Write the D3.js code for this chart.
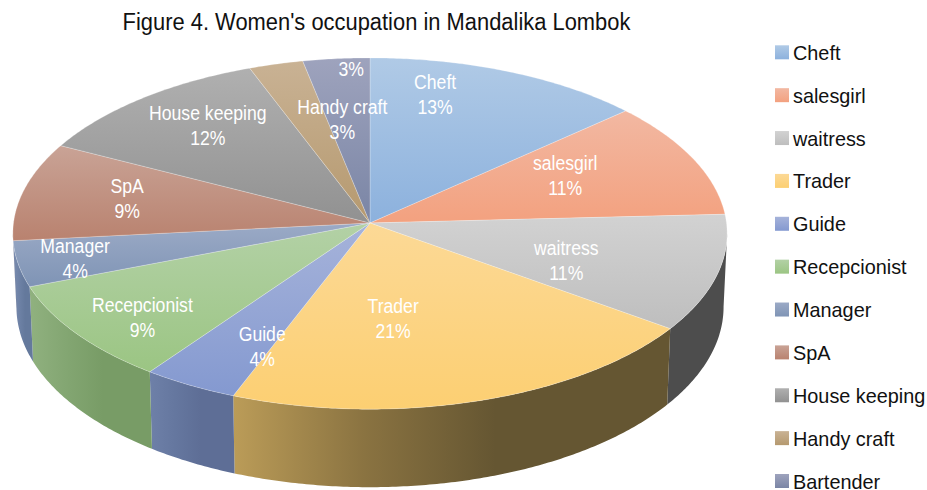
<!DOCTYPE html>
<html>
<head>
<meta charset="utf-8">
<title>Women's occupation in Mandalika Lombok</title>
<style>
body { margin: 0; background: #fff; }
text { font-family: "Liberation Sans", Arial, sans-serif; }
</style>
<script src="https://d3js.org/d3.v7.min.js"></script>
</head>
<body>
<script>
// data (labels show the rounded %)
var categories = ["Cheft", "salesgirl", "waitress", "Trader", "Guide", "Recepcionist", "Manager", "SpA", "House keeping", "Handy craft", "Bartender"];
var shares = [13.4, 10.8, 10.7, 21, 4.1, 9.2, 4.2, 9.1, 11.7, 2.6, 3.2];
var topLight = ["#b0cae6", "#f2b8a2", "#d2d2d2", "#fcd996", "#a6b3da", "#b3d1a6", "#9baac6", "#c9a396", "#b0b0b0", "#c9b294", "#9ea3bd"];
var topDark = ["#8cb1dd", "#f3a17f", "#bebebe", "#fccf72", "#8499d0", "#9bc583", "#7f94b5", "#b9826f", "#919191", "#b5996f", "#7a85a5"];
var sideLeft = ["#5f7ea8", "#a8694f", "#4d4d4d", "#bb9c58", "#6e80a8", "#90b17f", "#7a8caf", "#8a5f50", "#666666", "#8a6f48", "#5f6885"];
var sideMid = ["#55729a", "#985f47", "#4d4d4d", "#8a7341", "#65779f", "#83a672", "#6e82a6", "#80574a", "#5f5f5f", "#7f6642", "#59617c"];
var sideRight = ["#4d6a90", "#8a5640", "#4d4d4d", "#655632", "#5e6e96", "#789c66", "#64799c", "#765044", "#585858", "#755e3c", "#525a74"];
// label nudges from the slice centre, the original has them hand placed
var nudgeX = [-19.5, 0, -11, -40, -2, -54, -85, -34, -23, 30, 2];
var nudgeY = [-36.5, -9, 7.5, -9.5, 28, 29, 11, -6, -21.5, -6.5, -53];

var width = 927, height = 490;
var cx = 370, cy = 223, R = 356.5, S = 175, k = 0.06; // fake 3d perspective
var bottomShrink = 0.99;
var edge = Math.acos(-k); // where the rim turns away from the viewer

var svg = d3.select("body").append("svg")
    .attr("width", width)
    .attr("height", height)
    .style("display", "block");

var defs = svg.append("defs");

// circle -> tilted ellipse, back of the pie is smaller than the front
function project(angle, f) {
  var s = Math.sin(angle), c = Math.cos(angle), w = 1 + k * f * c;
  return [cx + R * f * s / w, cy - S * f * c / w];
}

// wall is a bit taller at the front
function depthAt(angle) {
  return 73 - 5 * Math.cos(angle);
}

function sample(a0, a1) {
  var n = Math.max(2, Math.ceil(Math.abs(a1 - a0) / 0.01));
  return d3.range(n + 1).map(function(i) { return a0 + (a1 - a0) * i / n; });
}

var line = d3.line();
var pie = d3.pie().sort(null).value(function(d) { return d; });
var slices = pie(shares);

slices.forEach(function(d, i) {
  var g = defs.append("linearGradient").attr("id", "top" + i)
      .attr("x1", 0).attr("y1", 0).attr("x2", 0).attr("y2", 1);
  g.append("stop").attr("offset", 0).attr("stop-color", topLight[i]);
  g.append("stop").attr("offset", 1).attr("stop-color", topDark[i]);

  var h = defs.append("linearGradient").attr("id", "side" + i)
      .attr("x1", 0).attr("y1", 0).attr("x2", 1).attr("y2", 0);
  h.append("stop").attr("offset", 0).attr("stop-color", sideLeft[i]);
  h.append("stop").attr("offset", 0.3).attr("stop-color", sideMid[i]);
  h.append("stop").attr("offset", 0.6).attr("stop-color", sideRight[i]);
});

// side wall, only the part of the rim facing us
svg.append("g").selectAll("path")
    .data(slices.filter(function(d) { return d.endAngle > edge && d.startAngle < 2 * Math.PI - edge; }))
    .enter().append("path")
    .attr("d", function(d) {
      var a0 = Math.max(d.startAngle, edge), a1 = Math.min(d.endAngle, 2 * Math.PI - edge);
      var upper = sample(a0, a1).map(function(a) { return project(a, 1); });
      var lower = sample(a1, a0).map(function(a) {
        var p = project(a, 1);
        return [cx + (p[0] - cx) * bottomShrink, p[1] + depthAt(a)];
      });
      return line(upper.concat(lower)) + "Z";
    })
    .attr("fill", function(d) { return "url(#side" + d.index + ")"; });

// top face
svg.append("g").selectAll("path")
    .data(slices)
    .enter().append("path")
    .attr("d", function(d) {
      var rim = sample(d.startAngle, d.endAngle).map(function(a) { return project(a, 1); });
      return line([[cx, cy]].concat(rim)) + "Z";
    })
    .attr("fill", function(d) { return "url(#top" + d.index + ")"; })
    .attr("stroke", "#fff")
    .attr("stroke-opacity", 0.3)
    .attr("stroke-width", 0.8);

// data labels
var fmt = function(v) { return Math.round(v) + "%"; };
var labels = svg.append("g").selectAll("g")
    .data(slices)
    .enter().append("g")
    .attr("transform", function(d, i) {
      var p = project((d.startAngle + d.endAngle) / 2, 0.6);
      return "translate(" + (p[0] + nudgeX[i]) + "," + (p[1] + nudgeY[i]) + ") scale(0.84,1)";
    })
    .attr("fill", "#fff")
    .attr("font-size", 21)
    .attr("text-anchor", "middle");

labels.append("text")
    .attr("y", -5)
    .text(function(d, i) { return i == 10 ? "" : categories[i]; });

labels.append("text")
    .attr("y", function(d, i) { return i == 10 ? 7 : 20; })
    .text(function(d) { return fmt(d.value); });

// legend
var legendY = d3.scalePoint().domain(categories).range([52.3, 481]);
var legend = svg.append("g").selectAll("g")
    .data(categories)
    .enter().append("g")
    .attr("transform", function(d) { return "translate(775," + legendY(d) + ")"; });

legend.append("rect")
    .attr("y", -7)
    .attr("width", 14)
    .attr("height", 14)
    .attr("fill", function(d, i) { return "url(#top" + i + ")"; });

legend.append("text")
    .attr("transform", "translate(18,7.5) scale(0.945,1)")
    .attr("font-size", 21)
    .attr("fill", "#111")
    .text(function(d) { return d; });

// title
svg.append("text")
    .attr("transform", "translate(376.5,29.5) scale(0.913,1)")
    .attr("text-anchor", "middle")
    .attr("font-size", 24)
    .attr("fill", "#111")
    .text("Figure 4. Women's occupation in Mandalika Lombok");
</script>
</body>
</html>
